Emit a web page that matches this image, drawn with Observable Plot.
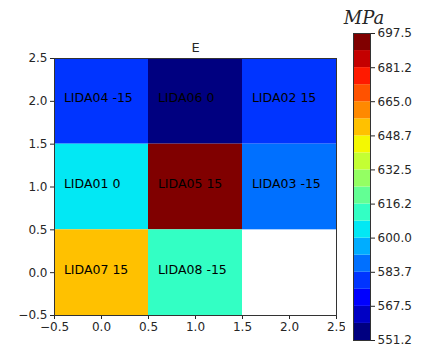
<!DOCTYPE html>
<html><head><meta charset="utf-8">
<script src="https://cdn.jsdelivr.net/npm/d3@7"></script>
<script src="https://cdn.jsdelivr.net/npm/@observablehq/plot@0.6"></script>
<style>
body{margin:0;background:#fff;}
#wrap{position:relative;width:422px;height:352px;overflow:hidden;}
#main,#bar{position:absolute;top:0;}
#main{left:0}
#bar{left:330px}
</style></head><body><div id="wrap"><div id="main"></div><div id="bar"></div></div>
<script>
const labels = ["LIDA04 -15","LIDA06 0","LIDA02 15","LIDA01 0","LIDA05 15","LIDA03 -15","LIDA07 15","LIDA08 -15"];
const xs = [0,1,2,0,1,2,0,1];
const ys = [2,2,2,1,1,1,0,0];
const values = [580,551.2,580,604,697.5,588,652,612];
const axisTicks = [-0.5,0,0.5,1,1.5,2,2.5];
const cbarTicks = [551.2,567.5,583.7,600.0,616.2,632.5,648.7,665.0,681.2,697.5];
const jetColors = ["#000080","#0000c4","#0000ff","#0034ff","#0070ff","#00adff","#02e8f4","#33ffc4","#63ff94","#94ff63","#c4ff33","#f4f802","#ffc100","#ff8900","#ff5200","#ff1a00","#c40000","#800000"];
const vmin = 551.2, vmax = 697.5;

const levels = d3.range(0,19).map(i => vmin + i*(vmax-vmin)/18);
const color = {type:"threshold", domain: levels.slice(1,18), range: jetColors};
const data = labels.map((l,i)=>({label:l,x:xs[i],y:ys[i],v:values[i]}));
const fmt = d3.format(".1f");
const font = {fontFamily:"'DejaVu Sans', sans-serif", fontSize:"12px", color:"#262626", background:"transparent"};

const main = Plot.plot({
  width:345, height:352, marginLeft:54, marginRight:9, marginTop:58, marginBottom:37,
  style: font,
  x:{domain:[-0.5,2.5], ticks:axisTicks, tickFormat:fmt, tickSize:4, tickPadding:3, label:null},
  y:{domain:[-0.5,2.5], ticks:axisTicks, tickFormat:fmt, tickSize:4, tickPadding:3, label:null},
  color,
  marks:[
    Plot.rect(data,{x1:d=>d.x-0.5,x2:d=>d.x+0.5,y1:d=>d.y-0.5,y2:d=>d.y+0.5,fill:"v"}),
    Plot.text(data,{x:d=>d.x-0.4,y:"y",text:"label",textAnchor:"start",fill:"black",fontSize:12.5,dy:-3}),
    Plot.frame({stroke:"#333"}),
    Plot.text(["E"],{frameAnchor:"top",dy:-7,lineAnchor:"bottom",fontSize:13,fill:"#262626"})
  ]
});
document.getElementById("main").appendChild(main);

const bands = jetColors.map((c,i)=>({y1:levels[i],y2:levels[i+1],mid:(levels[i]+levels[i+1])/2}));
const bar = Plot.plot({
  width:92, height:352, marginLeft:23, marginRight:52, marginTop:33, marginBottom:12,
  style: font,
  x:{domain:[0,1], axis:null},
  y:{domain:[vmin,vmax], ticks:cbarTicks, tickFormat:fmt, tickSize:4, tickPadding:3, axis:"right", label:null},
  color,
  marks:[
    Plot.rect(bands,{x1:0,x2:1,y1:"y1",y2:"y2",fill:"mid"}),
    Plot.frame({stroke:"#333"}),
    Plot.text(["MPa"],{frameAnchor:"top",dy:-22,dx:2,fontSize:18,fontStyle:"italic",fontFamily:"'DejaVu Serif', serif",fill:"#262626"})
  ]
});
document.getElementById("bar").appendChild(bar);
</script></body></html>
